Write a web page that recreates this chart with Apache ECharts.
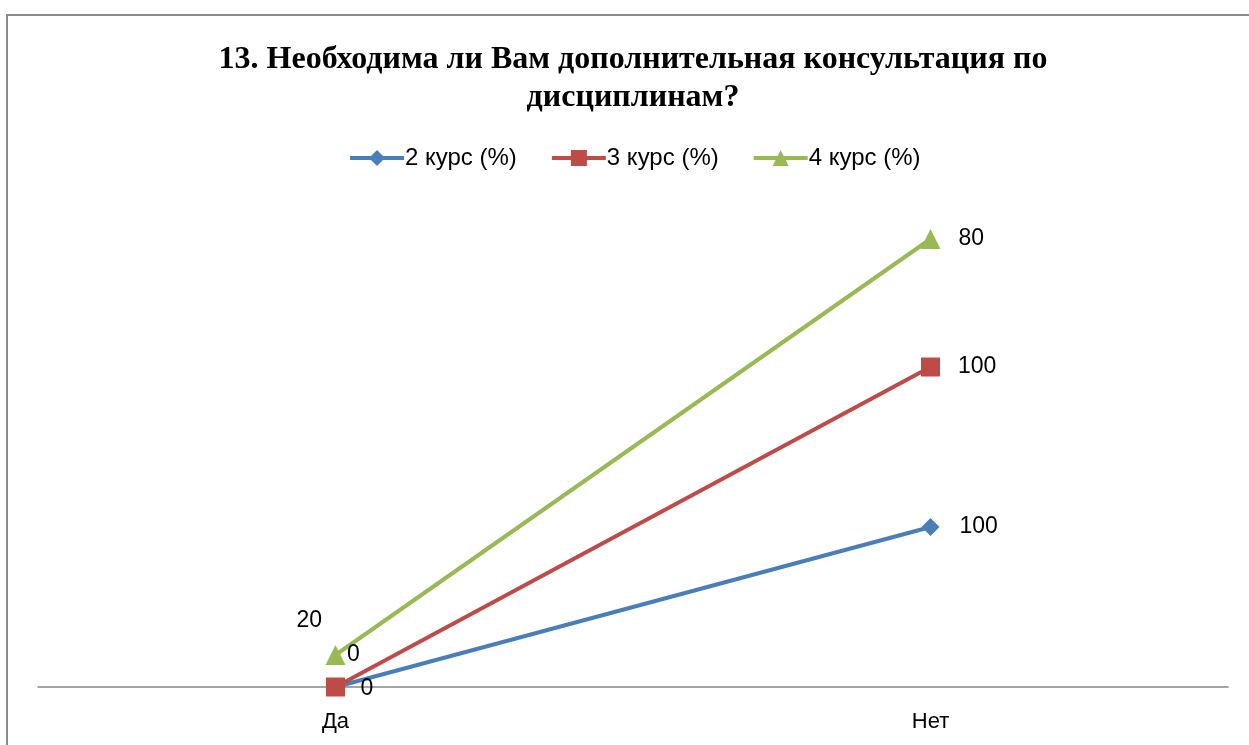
<!DOCTYPE html>
<html>
<head>
<meta charset="utf-8">
<script src="https://cdn.jsdelivr.net/npm/echarts@6/dist/echarts.min.js"></script>
<style>
  html, body { margin: 0; padding: 0; background: #fff; }
  #main { width: 1249px; height: 745px; }
</style>
</head>
<body>
<div id="main"></div>
<script>
const categories = ['Да', 'Нет'];
const course2 = [0, 100];
const course3 = [0, 100];
const course4 = [20, 80];
const seriesNames = ['2 курс (%)', '3 курс (%)', '4 курс (%)'];

const chart = echarts.init(document.getElementById('main'));
const labelFont = { fontSize: 23, color: '#000', fontFamily: 'Liberation Sans, Arial' };

// label offsets like in the original Excel picture
const withLabels = (values, offsets) => values.map((v, i) => ({
  value: v,
  label: { show: true, position: 'right', distance: 12, offset: offsets[i] || [0, 0], ...labelFont }
}));

chart.setOption({
  backgroundColor: '#fff',
  animation: false,
  title: {
    text: '13. Необходима ли Вам дополнительная консультация по\nдисциплинам?',
    left: 628,
    textAlign: 'center',
    top: 36,
    textStyle: {
      fontFamily: 'Liberation Serif, Times New Roman',
      fontWeight: 'bold',
      fontSize: 32,
      lineHeight: 38,
      color: '#000'
    }
  },
  legend: {
    top: 141,
    left: 343,
    itemWidth: 54,
    itemHeight: 20,
    itemGap: 33,
    lineStyle: { width: 4 },
    textStyle: { fontSize: 24, color: '#000', fontFamily: 'Liberation Sans, Arial', padding: [0, 0, 0, -4] },
    data: seriesNames
  },
  grid: { left: 38, right: 21, top: 207, bottom: 58 },
  xAxis: {
    type: 'category',
    data: categories,
    boundaryGap: true,
    axisLine: { lineStyle: { color: '#868686', width: 1.5 } },
    axisTick: { show: false },
    axisLabel: { fontSize: 22, color: '#000', margin: 24, fontFamily: 'Liberation Sans, Arial' }
  },
  yAxis: {
    type: 'value',
    min: 0,
    max: 300,
    show: false,
    splitLine: { show: false }
  },
  series: [
    {
      name: seriesNames[0],
      type: 'line',
      stack: 'total',
      data: withLabels(course2, [[4, 2], [8, 0]]),
      symbol: 'diamond',
      symbolSize: 18,
      lineStyle: { color: '#4a7ebb', width: 4 },
      itemStyle: { color: '#4a7ebb' },
      z: 2
    },
    {
      name: seriesNames[1],
      type: 'line',
      stack: 'total',
      data: withLabels(course3, [[-10, -32], [6, 0]]),
      symbol: 'rect',
      symbolSize: 19,
      lineStyle: { color: '#be4b48', width: 4 },
      itemStyle: { color: '#be4b48' },
      z: 3
    },
    {
      name: seriesNames[2],
      type: 'line',
      stack: 'total',
      data: withLabels(course4, [[-61, -34], [6, 0]]),
      symbol: 'triangle',
      symbolSize: 20,
      lineStyle: { color: '#98b954', width: 4 },
      itemStyle: { color: '#98b954' },
      z: 1
    }
  ],
  graphic: [{
    type: 'rect',
    shape: { x: 7, y: 15, width: 1300, height: 800 },
    style: { fill: null, stroke: '#8a8a8a', lineWidth: 2 },
    silent: true
  }]
});
</script>
</body>
</html>
